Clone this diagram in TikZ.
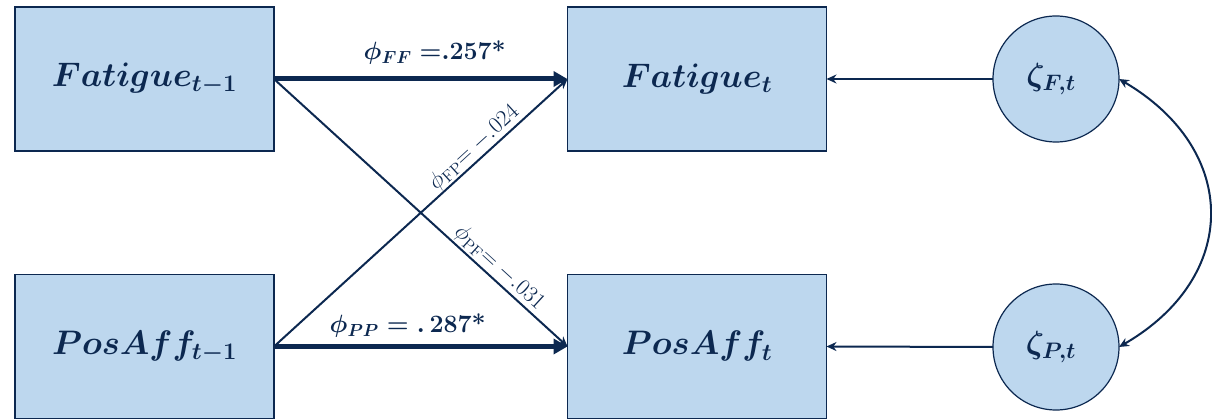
\RequirePackage{fix-cm}
\documentclass[tikz,border=0pt]{standalone}
\usetikzlibrary{arrows.meta}
\definecolor{navy}{HTML}{0C2850}
\definecolor{boxfill}{HTML}{BDD7EE}
\begin{document}
\begin{tikzpicture}[x=1pt,y=-1pt,
  varbox/.style={draw=navy, line width=1.2pt, fill=boxfill, minimum width=259pt, minimum height=144pt, inner sep=0pt, outer sep=0pt, text=navy, font=\fontsize{34}{40}\selectfont\boldmath},
  errcirc/.style={circle, draw=navy, line width=1.2pt, fill=boxfill, minimum size=126pt, inner sep=0pt, outer sep=0pt, text=navy, font=\fontsize{32}{38}\selectfont\boldmath},
  strongpath/.style={draw=navy, line width=5pt, -{Triangle[length=14pt,width=15pt]}},
  weakpath/.style={draw=navy, line width=2pt, -{Stealth[length=10pt,width=9pt]}},
  covpath/.style={draw=navy, line width=2pt, {Stealth[length=10pt,width=9pt]}-{Stealth[length=10pt,width=9pt]}},
  boldlab/.style={text=navy, font=\fontsize{25}{30}\selectfont\boldmath, inner sep=0pt, anchor=base},
  thinlab/.style={text=navy, font=\fontsize{23}{27}\selectfont, inner sep=1pt}]
\useasboundingbox (0,0) rectangle (1212,419);

\node[varbox] (f1) at (144.5,79) {$Fatigue_{t-1}$};
\node[varbox] (f2) at (697,79) {$Fatigue_{t}$};
\node[varbox] (p1) at (144.5,346.5) {$PosAff_{t-1}$};
\node[varbox] (p2) at (697,346.5) {$PosAff_{t}$};

\node[errcirc] (zf) at (1056,79) {\hspace*{-10pt}$\zeta_{F,t}$};
\node[errcirc] (zp) at (1056,347) {\hspace*{-10pt}$\zeta_{P,t}$};

\draw[strongpath] (f1.east) -- node[boldlab, xshift=14pt, yshift=19pt] {$\phi_{FF}\;{=}.257$\textbf{*}} (f2.west);
\draw[strongpath] (p1.east) -- node[boldlab, xshift=-13pt, yshift=14pt] {$\phi_{PP} = .\,287$\textbf{*}} (p2.west);

\draw[weakpath] (p1.east) -- node[thinlab, pos=0.71, sloped, above] {$\phi_{\mathrm{FP}}{=}\;{-}.024$} (f2.west);
\draw[weakpath] (f1.east) -- node[thinlab, pos=0.74, sloped, above] {$\phi_{\mathrm{PF}}{=}\;{-}.031$} (p2.west);

\draw[weakpath] (zf.west) -- (f2.east);
\draw[weakpath] (zp.west) -- (p2.east);

\draw[covpath] (zf.east) .. controls (1240,150) and (1240,277) .. (zp.east);
\end{tikzpicture}
\end{document}
